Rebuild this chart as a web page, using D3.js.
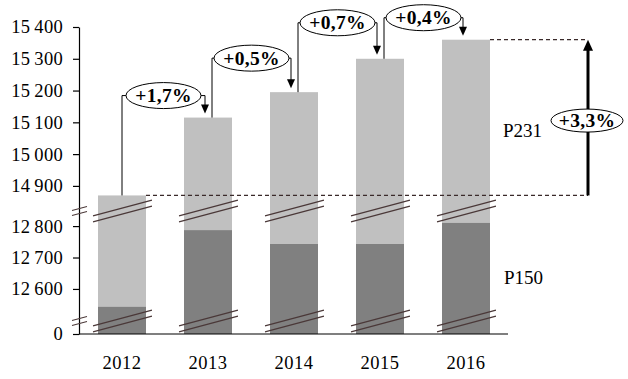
<!DOCTYPE html>
<html>
<head>
<meta charset="utf-8">
<script src="https://cdn.jsdelivr.net/npm/d3@7"></script>
<style>
  html, body { margin: 0; padding: 0; background: #fff; }
  svg text { font-family: "Liberation Serif", "Times New Roman", serif; }
</style>
</head>
<body>
<svg id="chart" width="628" height="379"></svg>
<script>
// ---- data ----
const years = ["2012", "2013", "2014", "2015", "2016"];
const totalP231 = [14870, 15115, 15195, 15300, 15360];
const partP150 = [12543, 12787, 12743, 12743, 12810];
const stepLabels = ["+1,7%", "+0,5%", "+0,7%", "+0,4%"];
const overallLabel = "+3,3%";
const yTicks = [0, 12600, 12700, 12800, 14900, 15000, 15100, 15200, 15300, 15400];
const seriesNames = ["P231", "P150"];

// ---- layout ----
const svg = d3.select("#chart");
const axisX = 79, baseY = 334, topY = 27;
const lowBreakY = 321, highBreakY = 211;
const lightGray = "#c0c0c0", darkGray = "#808080", breakColor = "#4a3838";

// broken (piecewise) y scale
const y = d3.scaleLinear()
  .domain([0, 12498, 12848, 14821, 15400])
  .range([baseY, lowBreakY, highBreakY, highBreakY, topY]);

const x = d3.scaleBand()
  .domain(years)
  .range([axisX, 509])
  .paddingInner(0.442)
  .paddingOuter(0.221);
const bw = x.bandwidth();
const cx = d => x(d) + bw / 2;

// bars
svg.append("g").selectAll("rect.light").data(years).join("rect")
  .attr("x", d => x(d)).attr("width", bw)
  .attr("y", (d, i) => y(totalP231[i]))
  .attr("height", (d, i) => baseY - y(totalP231[i]))
  .attr("fill", lightGray);
svg.append("g").selectAll("rect.dark").data(years).join("rect")
  .attr("x", d => x(d)).attr("width", bw)
  .attr("y", (d, i) => y(partP150[i]))
  .attr("height", (d, i) => baseY - y(partP150[i]))
  .attr("fill", darkGray);

// y axis
const fmt = d3.formatLocale({ decimal: ",", thousands: "\u2009", grouping: [3], currency: ["", ""] }).format(",d");
const yAxis = d3.axisLeft(y).tickValues(yTicks).tickFormat(fmt).tickSize(6).tickSizeOuter(0).tickPadding(10);
const gy = svg.append("g").attr("transform", `translate(${axisX},0)`).call(yAxis);
gy.selectAll("path, line").attr("stroke", "#000").attr("stroke-width", 1.2);
gy.selectAll("text").attr("font-size", 18.5).attr("fill", "#000").attr("letter-spacing", 0.3)
  .attr("font-family", "Liberation Serif, serif");

// x axis
const xAxis = d3.axisBottom(x).tickSize(0).tickSizeOuter(0).tickPadding(22);
const gx = svg.append("g").attr("transform", `translate(0,${baseY})`).call(xAxis);
gx.select("path.domain").attr("stroke", "#000").attr("stroke-width", 1.2).attr("d", `M${axisX},0H508`);
gx.selectAll("text").attr("font-size", 18.5).attr("fill", "#000").attr("letter-spacing", 0.5)
  .attr("font-family", "Liberation Serif, serif");

// break marks
const brk = svg.append("g").attr("stroke", breakColor).attr("stroke-width", 1.2).attr("fill", "none");
[lowBreakY, highBreakY].forEach(by => {
  years.forEach(d => {
    const x0 = x(d) - 5, x1 = x(d) + bw + 6, xm = (x0 + x1) / 2;
    const slope = -16 / 60;
    [-3, 3].forEach(off => {
      brk.append("line")
        .attr("x1", x0).attr("y1", by + off + (x0 - xm) * slope)
        .attr("x2", x1).attr("y2", by + off + (x1 - xm) * slope);
    });
  });
  [-2.5, 2.5].forEach(off => {
    brk.append("line")
      .attr("x1", axisX - 7).attr("y1", by + off + 2)
      .attr("x2", axisX + 8).attr("y2", by + off - 2);
  });
});

// dashed reference lines & overall arrow
const arrowX = 588;
const yFirst = y(totalP231[0]), yLast = y(totalP231[totalP231.length - 1]);
const dash = svg.append("g").attr("stroke", "#3a2a2a").attr("stroke-width", 1.2).attr("stroke-dasharray", "4,3");
dash.append("line").attr("x1", x(years[0]) + bw).attr("x2", arrowX).attr("y1", yFirst).attr("y2", yFirst);
dash.append("line").attr("x1", x(years[4]) + bw).attr("x2", arrowX).attr("y1", yLast).attr("y2", yLast);

svg.append("line").attr("x1", arrowX).attr("x2", arrowX).attr("y1", yFirst).attr("y2", yLast + 9)
  .attr("stroke", "#000").attr("stroke-width", 3);
svg.append("path").attr("d", `M${arrowX},${yLast}L${arrowX - 5},${yLast + 11}L${arrowX + 5},${yLast + 11}Z`).attr("fill", "#000");

function bubble(cxp, cyp, rx, ry, label) {
  svg.append("ellipse").attr("cx", cxp).attr("cy", cyp).attr("rx", rx).attr("ry", ry)
    .attr("fill", "#fff").attr("stroke", "#000").attr("stroke-width", 1);
  svg.append("text").attr("x", cxp).attr("y", cyp + 6.5).attr("text-anchor", "middle")
    .attr("font-size", 19.5).attr("font-weight", "bold").attr("letter-spacing", 0.3)
    .attr("fill", "#000").text(label);
}
bubble(arrowX - 1, (yFirst + yLast) / 2 + 3, 36, 11.5, overallLabel);

// step connectors
const gapAbove = [22, 34, 36, 22];
const conn = svg.append("g").attr("stroke", "#000").attr("stroke-width", 1).attr("fill", "none");
stepLabels.forEach((lab, i) => {
  const sx = cx(years[i]) + (i === 0 ? 0 : 4);
  const ex = cx(years[i + 1]) - 3;
  const topNext = y(totalP231[i + 1]);
  const ey = topNext - gapAbove[i];
  const tipY = topNext - 4;
  conn.append("path").attr("d", `M${sx},${y(totalP231[i])}V${ey}H${ex}V${tipY - 8}`);
  svg.append("path").attr("d", `M${ex},${tipY}L${ex - 4},${tipY - 9}L${ex + 4},${tipY - 9}Z`).attr("fill", "#000");
  bubble((sx + ex) / 2, ey, 37.5, 13, lab);
});

// series labels
svg.append("text").attr("x", 503).attr("y", 137).attr("font-size", 19).attr("fill", "#000").text(seriesNames[0]);
svg.append("text").attr("x", 504).attr("y", 284).attr("font-size", 19).attr("fill", "#000").text(seriesNames[1]);
</script>
</body>
</html>
